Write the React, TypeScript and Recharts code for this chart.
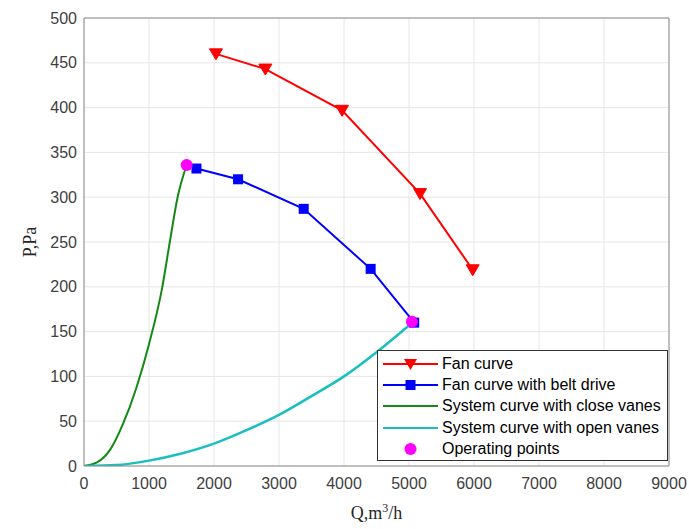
import React from "react";
import {
  ComposedChart,
  Line,
  XAxis,
  YAxis,
  CartesianGrid,
  ReferenceLine,
  Label,
} from "recharts";

// values
const qTicks = [0, 1000, 2000, 3000, 4000, 5000, 6000, 7000, 8000, 9000];
const pTicks = [0, 50, 100, 150, 200, 250, 300, 350, 400, 450, 500];

const fanQ = [2030, 2790, 3970, 5170, 5980];
const fanP = [460, 443, 397, 304, 219];

const beltQ = [1730, 2370, 3380, 4410, 5080];
const beltP = [332, 320, 287, 220, 160];

const closeQ = [0, 200, 400, 600, 800, 1000, 1200, 1320, 1440, 1580];
const closeP = [0, 4, 18, 47, 86, 136, 198, 250, 300, 336];

const openQ = [0, 500, 1000, 1500, 2000, 2500, 3000, 3500, 4000, 4500, 5050];
const openP = [0, 1, 6, 14, 25, 40, 57, 78, 100, 127, 160];

const opQ = [1580, 5045];
const opP = [336, 161];

const toRows = (qs: number[], ps: number[]) => qs.map((q, i) => ({ q, p: ps[i] }));

const fanData = toRows(fanQ, fanP);
const beltData = toRows(beltQ, beltP);
const closeData = toRows(closeQ, closeP);
const openData = toRows(openQ, openP);
const opData = toRows(opQ, opP);

const RED = "#ff0000";
const BLUE = "#0000ff";
const GREEN = "#138a13";
const CYAN = "#19bfbf";
const MAGENTA = "#ff00ff";

const Triangle = (props: any) => {
  const { cx, cy } = props;
  if (cx == null || cy == null) return null;
  return (
    <path
      d={`M${cx - 6.5},${cy - 5} L${cx + 6.5},${cy - 5} L${cx},${cy + 6} Z`}
      fill={RED}
      stroke={RED}
    />
  );
};

const Square = (props: any) => {
  const { cx, cy } = props;
  if (cx == null || cy == null) return null;
  return <rect x={cx - 5} y={cy - 5} width={10} height={10} fill={BLUE} />;
};

const Dot = (props: any) => {
  const { cx, cy } = props;
  if (cx == null || cy == null) return null;
  return <circle cx={cx} cy={cy} r={6} fill={MAGENTA} />;
};

const legendItems = [
  { name: "Fan curve", color: RED, line: true, marker: "tri" },
  { name: "Fan curve with belt drive", color: BLUE, line: true, marker: "sq" },
  { name: "System curve with close vanes", color: GREEN, line: true, marker: "" },
  { name: "System curve with open vanes", color: CYAN, line: true, marker: "" },
  { name: "Operating points", color: MAGENTA, line: false, marker: "dot" },
];

const LegendBox = () => (
  <div
    style={{
      position: "absolute",
      left: 377,
      top: 350,
      width: 291,
      height: 111,
      background: "#fff",
      border: "1px solid #333",
      boxSizing: "border-box",
      paddingTop: 2,
      fontFamily: "'Liberation Sans', Arial, sans-serif",
      fontSize: 16,
      color: "#000",
    }}
  >
    {legendItems.map((it) => (
      <div key={it.name} style={{ display: "flex", alignItems: "center", height: 21.4 }}>
        <svg width={64} height={20} style={{ flex: "none" }}>
          {it.line && <line x1={5} y1={10} x2={60} y2={10} stroke={it.color} strokeWidth={2} />}
          {it.marker === "tri" && <path d="M26,5 L39,5 L32.5,16 Z" fill={it.color} />}
          {it.marker === "sq" && <rect x={27.5} y={5} width={10} height={10} fill={it.color} />}
          {it.marker === "dot" && <circle cx={32.5} cy={10} r={6} fill={it.color} />}
        </svg>
        <span style={{ whiteSpace: "nowrap" }}>{it.name}</span>
      </div>
    ))}
  </div>
);

const XTitle = (props: any) => {
  const vb = props.viewBox || {};
  const cx = vb.x + vb.width / 2;
  return (
    <text
      x={cx}
      y={519}
      textAnchor="middle"
      fontFamily="'Liberation Serif', 'Times New Roman', serif"
      fontSize={18}
      fill="#262626"
    >
      Q,m
      <tspan dy={-7} fontSize={12}>3</tspan>
      <tspan dy={7}>/h</tspan>
    </text>
  );
};

const YTitle = (props: any) => {
  const vb = props.viewBox || {};
  const cy = vb.y + vb.height / 2;
  return (
    <text
      x={36}
      y={cy}
      transform={`rotate(-90 36 ${cy})`}
      textAnchor="middle"
      fontFamily="'Liberation Serif', 'Times New Roman', serif"
      fontSize={18}
      fill="#262626"
    >
      P,Pa
    </text>
  );
};

const tickStyle = {
  fill: "#404040",
  fontSize: 16,
  fontFamily: "'Liberation Sans', Arial, sans-serif",
};

export default function App() {
  return (
    <div style={{ position: "absolute", left: 0, top: 0, width: 689, height: 529, background: "#fff" }}>
      <ComposedChart width={689} height={529} margin={{ top: 18, right: 20, bottom: 0, left: 0 }}>
        <CartesianGrid stroke="#e6e6e6" strokeWidth={1} />
        <XAxis
          type="number"
          dataKey="q"
          domain={[0, 9000]}
          ticks={qTicks}
          interval={0}
          height={63}
          tick={tickStyle}
          tickSize={0}
          tickMargin={12}
          stroke="#8a8a8a"
          allowDataOverflow
        >
          <Label content={<XTitle />} />
        </XAxis>
        <YAxis
          type="number"
          domain={[0, 500]}
          ticks={pTicks}
          interval={0}
          width={84}
          tick={tickStyle}
          tickSize={0}
          tickMargin={7}
          stroke="#8a8a8a"
          allowDataOverflow
        >
          <Label content={<YTitle />} />
        </YAxis>
        <ReferenceLine y={500} stroke="#8a8a8a" />
        <ReferenceLine x={9000} stroke="#8a8a8a" />
        <Line
          data={fanData}
          dataKey="p"
          type="linear"
          stroke={RED}
          strokeWidth={2}
          dot={<Triangle />}
          isAnimationActive={false}
        />
        <Line
          data={beltData}
          dataKey="p"
          type="linear"
          stroke={BLUE}
          strokeWidth={2}
          dot={<Square />}
          isAnimationActive={false}
        />
        <Line
          data={closeData}
          dataKey="p"
          type="monotone"
          stroke={GREEN}
          strokeWidth={2}
          dot={false}
          isAnimationActive={false}
        />
        <Line
          data={openData}
          dataKey="p"
          type="monotone"
          stroke={CYAN}
          strokeWidth={2.5}
          dot={false}
          isAnimationActive={false}
        />
        <Line
          data={opData}
          dataKey="p"
          stroke="none"
          dot={<Dot />}
          isAnimationActive={false}
        />
      </ComposedChart>
      <LegendBox />
    </div>
  );
}
